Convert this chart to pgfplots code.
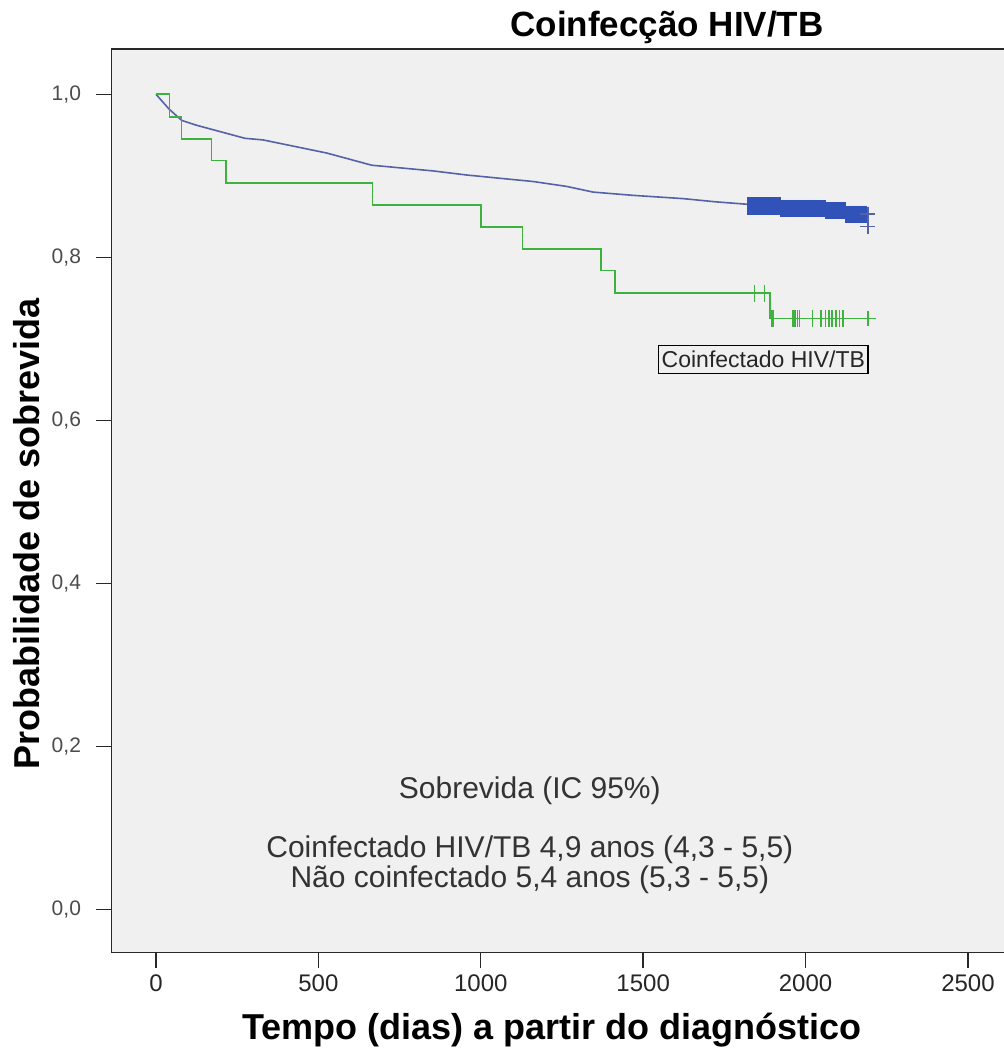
\documentclass[border=0pt]{standalone}
\usepackage{fontspec}
\setmainfont{Liberation Sans}
\usepackage{pgfplots}
\pgfplotsset{compat=1.18}
\definecolor{bgc}{RGB}{240,240,240}
\definecolor{kmblue}{RGB}{48,82,185}
\definecolor{kmline}{RGB}{85,98,168}
\definecolor{kmgreen}{RGB}{62,178,62}
\definecolor{axc}{RGB}{40,40,40}
\begin{document}
\begin{tikzpicture}[x=1pt,y=1pt]
\useasboundingbox (0,0) rectangle (502,529.5);
\fill[white] (0,0) rectangle (502,529.5);
\begin{axis}[
  at={(55.5pt,53pt)}, anchor=south west,
  scale only axis, width=450pt, height=452pt,
  xmin=-138.5, xmax=2632.5, ymin=-0.0536, ymax=1.0556,
  axis background/.style={fill=bgc},
  axis line style={draw=none},
  tick pos=left, tick align=outside,
  major tick length=7.5pt,
  tick style={axc, line width=0.7pt},
  xtick={0,500,1000,1500,2000,2500},
  xticklabels={0,500,1000,1500,2000,2500},
  ytick={0,0.2,0.4,0.6,0.8,1.0},
  yticklabels={{0,0},{0,2},{0,4},{0,6},{0,8},{1,0}},
  xticklabel style={font=\fontsize{12}{12}\selectfont, text=black!85},
  yticklabel style={font=\fontsize{10.5}{12}\selectfont, text=black!70, xshift=-4pt},
]
% frame: left, top, bottom (right side lies outside the cropped picture)
\draw[axc, line width=1pt] (rel axis cs:1,0) -- (rel axis cs:0,0) -- (rel axis cs:0,1) -- (rel axis cs:1,1);
% Nao coinfectado (blue)
\addplot[kmline, line width=0.8pt] coordinates {
(0,1.0)(40,0.982)(79,0.968)(125,0.962)(274,0.946)(330,0.944)(525,0.928)(664,0.913)
(853,0.906)(956,0.901)(1058,0.897)(1161,0.893)(1264,0.887)(1346,0.880)(1469,0.876)
(1623,0.872)(1725,0.868)(1823,0.865)(1920,0.863)(2060,0.860)(2120,0.857)(2125,0.853)
(2192,0.853)(2192,0.838)};
\addplot[only marks, mark=|, mark size=4.3pt, kmblue, mark options={line width=1.4pt}] coordinates {
(1825,0.863)(1830,0.863)(1835,0.863)(1840,0.863)(1845,0.863)(1850,0.863)(1855,0.863)
(1860,0.863)(1865,0.863)(1870,0.863)(1875,0.863)(1880,0.863)(1885,0.863)(1890,0.863)
(1895,0.863)(1900,0.863)(1905,0.863)(1910,0.863)(1915,0.863)(1920,0.863)
(1925,0.860)(1930,0.860)(1935,0.860)(1940,0.860)(1945,0.860)(1950,0.860)(1955,0.860)
(1960,0.860)(1965,0.860)(1970,0.860)(1975,0.860)(1980,0.860)(1985,0.860)(1990,0.860)
(1995,0.860)(2000,0.860)(2005,0.860)(2010,0.860)(2015,0.860)(2020,0.860)(2025,0.860)
(2030,0.860)(2035,0.860)(2040,0.860)(2045,0.860)(2050,0.860)(2055,0.860)(2060,0.860)
(2065,0.857)(2070,0.857)(2075,0.857)(2080,0.857)(2085,0.857)(2090,0.857)(2095,0.857)
(2100,0.857)(2105,0.857)(2110,0.857)(2115,0.857)(2120,0.857)
(2125,0.853)(2130,0.853)(2135,0.853)(2140,0.853)(2145,0.853)(2150,0.853)(2155,0.853)
(2160,0.853)(2165,0.853)(2170,0.853)(2175,0.853)(2180,0.853)(2185,0.853)};
\addplot[only marks, mark=+, mark size=3.75pt, kmline, mark options={line width=0.8pt}] coordinates {
(2192,0.853)(2192,0.838)};
% Coinfectado HIV/TB (green)
\addplot[const plot, kmgreen, line width=0.8pt] coordinates {
(0,1.0)(41,0.972)(79,0.945)(171,0.919)(215,0.891)(667,0.864)(1000,0.837)(1128,0.810)
(1371,0.784)(1414,0.756)(1891,0.725)(2192,0.725)};
\addplot[only marks, mark=|, mark size=4.2pt, kmgreen, mark options={line width=0.75pt}] coordinates {
(1843,0.756)(1874,0.756)(1896,0.725)(1901,0.725)(1962,0.725)(1968,0.725)(1975,0.725)
(1982,0.725)(2022,0.725)(2048,0.725)(2062,0.725)(2072,0.725)(2082,0.725)(2093,0.725)
(2104,0.725)(2115,0.725)};
\addplot[only marks, mark=+, mark size=3.9pt, kmgreen, mark options={line width=0.75pt}] coordinates {
(2192,0.725)};
\node[draw=black, line width=0.6pt, inner xsep=1.5pt, inner ysep=0pt, minimum height=14pt,
  font=\fontsize{11.5}{12}\selectfont, text=black!85] at (axis cs:1870,0.675) {Coinfectado HIV/TB};
\node[font=\fontsize{15}{16}\selectfont, text=black!80] at (axis cs:1151,0.146) {Sobrevida (IC 95\%)};
\node[font=\fontsize{15}{10.5}\selectfont, text=black!80, align=center, inner sep=0pt] at (axis cs:1151,0.0544)
  {Coinfectado HIV/TB 4,9 anos (4,3 - 5,5)\\Não coinfectado 5,4 anos (5,3 - 5,5)};
\end{axis}
\node[font=\bfseries\fontsize{17.5}{20}\selectfont] at (333.5,516) {Coinfecção HIV/TB};
\node[font=\bfseries\fontsize{18}{20}\selectfont] at (276,14.5) {Tempo (dias) a partir do diagnóstico};
\node[rotate=90, font=\bfseries\fontsize{18}{20}\selectfont] at (13.5,262.5) {Probabilidade de sobrevida};
\end{tikzpicture}
\end{document}
